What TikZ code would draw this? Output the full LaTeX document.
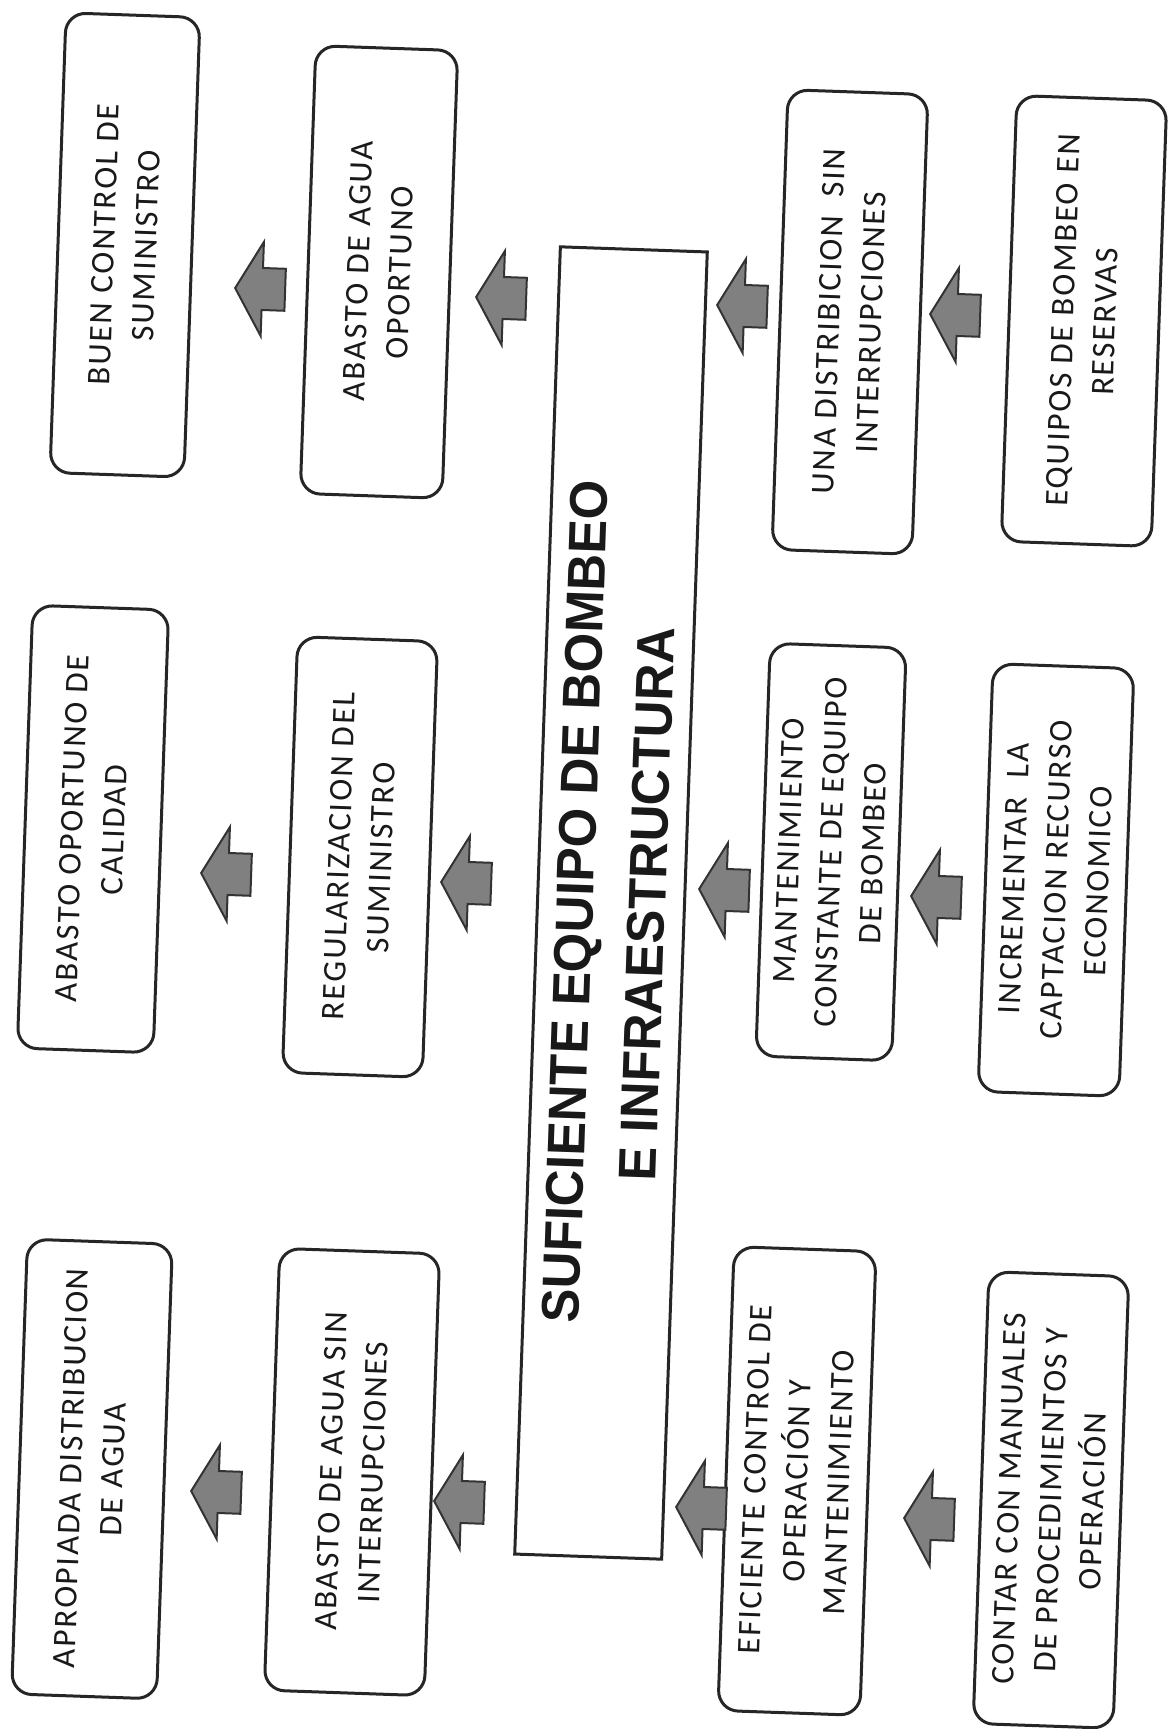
\documentclass[tikz,border=0pt]{standalone}
\usepackage{fontspec}
\setmainfont{Carlito}[LetterSpace=6]
\newfontfamily\titulofont{Liberation Sans}[FakeStretch=0.96]
\usepackage{tikz}
\usetikzlibrary{shapes.arrows}

\tikzset{
	caja/.style={draw=black!85, text=black!90, line width=1.5pt, rounded corners=10pt, rotate=88, align=center, inner sep=0pt, font=\fontsize{16.5}{21}\selectfont},
	titulo/.style={caja, rounded corners=0pt, font=\titulofont\bfseries\fontsize{26.5}{36}\selectfont},
	flecha/.style={single arrow, draw=black!80, fill=black!50, line width=1pt, rotate=178, anchor=tip, minimum height=25pt, inner xsep=0pt, inner ysep=10pt, single arrow head extend=13pt, single arrow tip angle=120}
}

\begin{document}
\begin{tikzpicture}[x=0.5pt,y=-0.5pt]
	\useasboundingbox (0,0) rectangle (1170,1729);
	\node[titulo, minimum width=654pt, minimum height=73.5pt] (centro) at (611,903) {SUFICIENTE EQUIPO DE BOMBEO\\E INFRAESTRUCTURA};
	\node[caja, minimum width=230pt, minimum height=67pt] (buen) at (125,245) {BUEN CONTROL DE\\SUMINISTRO};
	\node[caja, minimum width=221.5pt, minimum height=68pt] (calidad) at (93,829) {ABASTO OPORTUNO DE\\CALIDAD};
	\node[caja, minimum width=227.5pt, minimum height=72.5pt] (apropiada) at (92,1469) {APROPIADA DISTRIBUCION\\DE AGUA};
	\node[caja, minimum width=224pt, minimum height=71pt] (oportuno) at (379,272) {ABASTO DE AGUA\\OPORTUNO};
	\node[caja, minimum width=218pt, minimum height=70pt] (regular) at (360,857) {REGULARIZACION DEL\\SUMINISTRO};
	\node[caja, minimum width=221pt, minimum height=80pt] (sininter) at (352,1472) {ABASTO DE AGUA SIN\\INTERRUPCIONES};
	\node[caja, minimum width=230pt, minimum height=70pt] (distrib) at (850,322) {UNA DISTRIBICION\ \ SIN\\INTERRUPCIONES};
	\node[caja, minimum width=206.5pt, minimum height=68pt] (manten) at (831,852) {MANTENIMIENTO\\CONSTANTE DE EQUIPO\\DE BOMBEO};
	\node[caja, minimum width=232pt, minimum height=71pt] (eficiente) at (797,1481) {EFICIENTE CONTROL DE\\OPERACIÓN Y\\MANTENIMIENTO};
	\node[caja, minimum width=223pt, minimum height=75pt] (equipos) at (1084,321) {EQUIPOS DE BOMBEO EN\\RESERVAS};
	\node[caja, minimum width=214pt, minimum height=70.5pt] (incrementar) at (1056,880) {INCREMENTAR\ \ LA\\CAPTACION RECURSO\\ECONOMICO};
	\node[caja, minimum width=226pt, minimum height=70pt] (contar) at (1051,1500) {CONTAR CON MANUALES\\DE PROCEDIMIENTOS Y\\OPERACIÓN};
	\node[flecha] (a1) at (234,288) {};
	\node[flecha] (a2) at (475,297) {};
	\node[flecha] (a3) at (716,305) {};
	\node[flecha] (a4) at (929,314) {};
	\node[flecha] (b1) at (200,873) {};
	\node[flecha] (b2) at (440,882) {};
	\node[flecha] (b3) at (698,889) {};
	\node[flecha] (b4) at (910,896) {};
	\node[flecha] (c1) at (190,1491) {};
	\node[flecha] (c2) at (433,1501) {};
	\node[flecha] (c3) at (675,1507) {};
	\node[flecha] (c4) at (903,1518) {};
\end{tikzpicture}
\end{document}
